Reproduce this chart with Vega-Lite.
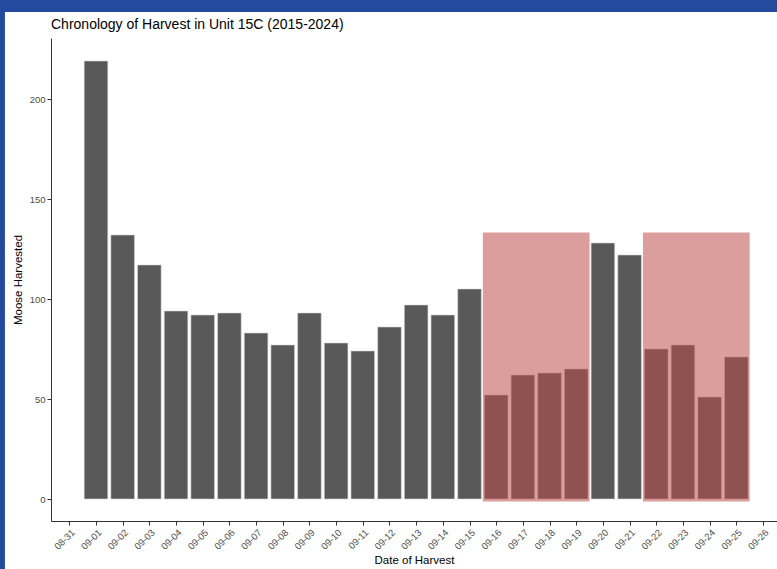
{
  "$schema": "https://vega.github.io/schema/vega-lite/v6.json",
  "width": 726,
  "height": 483,
  "autosize": {"type": "none"},
  "padding": {"left": 51, "top": 38, "right": 0, "bottom": 48},
  "background": "#234a9c",
  "title": {
    "text": "Chronology of Harvest in Unit 15C (2015-2024)",
    "anchor": "start",
    "frame": "group",
    "font": "Liberation Sans",
    "fontSize": 14,
    "fontWeight": "normal",
    "color": "#000000",
    "baseline": "alphabetic",
    "offset": -31,
    "zindex": 1
  },
  "config": {
    "view": {"stroke": null},
    "axis": {
      "grid": false,
      "domainColor": "#333333",
      "domainWidth": 1,
      "tickColor": "#333333",
      "tickSize": 4,
      "labelColor": "#4d4d4d",
      "labelFont": "Liberation Sans",
      "labelFontSize": 9.5,
      "titleFont": "Liberation Sans",
      "titleFontSize": 11.5,
      "titleFontWeight": "normal",
      "titleColor": "#000000"
    }
  },
  "datasets": {
    "harvest": [
      {"date": "2024-09-01", "moose": 219},
      {"date": "2024-09-02", "moose": 132},
      {"date": "2024-09-03", "moose": 117},
      {"date": "2024-09-04", "moose": 94},
      {"date": "2024-09-05", "moose": 92},
      {"date": "2024-09-06", "moose": 93},
      {"date": "2024-09-07", "moose": 83},
      {"date": "2024-09-08", "moose": 77},
      {"date": "2024-09-09", "moose": 93},
      {"date": "2024-09-10", "moose": 78},
      {"date": "2024-09-11", "moose": 74},
      {"date": "2024-09-12", "moose": 86},
      {"date": "2024-09-13", "moose": 97},
      {"date": "2024-09-14", "moose": 92},
      {"date": "2024-09-15", "moose": 105},
      {"date": "2024-09-16", "moose": 52},
      {"date": "2024-09-17", "moose": 62},
      {"date": "2024-09-18", "moose": 63},
      {"date": "2024-09-19", "moose": 65},
      {"date": "2024-09-20", "moose": 128},
      {"date": "2024-09-21", "moose": 122},
      {"date": "2024-09-22", "moose": 75},
      {"date": "2024-09-23", "moose": 77},
      {"date": "2024-09-24", "moose": 51},
      {"date": "2024-09-25", "moose": 71}
    ],
    "periods": [
      {"start": "2024-09-15T12:00:00Z", "end": "2024-09-19T12:00:00Z", "low": -1.3, "high": 133.3},
      {"start": "2024-09-21T12:00:00Z", "end": "2024-09-25T12:00:00Z", "low": -1.3, "high": 133.3}
    ]
  },
  "layer": [
    {
      "data": {"values": [{}]},
      "mark": {"type": "rect", "fill": "#ffffff", "clip": false},
      "encoding": {
        "x": {"datum": {"year": 2024, "month": 8, "date": 28, "hours": 14, "minutes": 6, "utc": true}, "type": "temporal", "title": "Date of Harvest"},
        "x2": {"datum": {"year": 2024, "month": 10, "date": 30, "utc": true}},
        "y": {"datum": 243.5, "type": "quantitative", "title": "Moose Harvested"},
        "y2": {"datum": -200}
      }
    },
    {
      "data": {"name": "harvest"},
      "mark": {"type": "bar", "fill": "#595959", "stroke": "#d4d4d4", "strokeWidth": 0.6, "width": 23.6},
      "encoding": {
        "x": {
          "field": "date",
          "type": "temporal",
          "title": "Date of Harvest",
          "scale": {
            "type": "utc",
            "nice": false,
            "padding": 0,
            "domain": [
              {"year": 2024, "month": 8, "date": 30, "hours": 7, "minutes": 32, "utc": true},
              {"year": 2024, "month": 9, "date": 26, "hours": 12, "minutes": 36, "utc": true}
            ]
          },
          "axis": {
            "zindex": 2,
            "format": "%m-%d",
            "tickCount": {"interval": "day", "step": 1},
            "labelAngle": -45,
            "labelAlign": "right",
            "labelBaseline": "top",
            "labelPadding": 2,
            "labelOverlap": false,
            "labelFlush": false,
            "titlePadding": 4
          }
        },
        "y": {
          "field": "moose",
          "type": "quantitative",
          "title": "Moose Harvested",
          "scale": {"domain": [-11, 230.5], "nice": false, "zero": false, "padding": 0},
          "axis": {"zindex": 2, "values": [0, 50, 100, 150, 200], "labelPadding": 2, "titlePadding": 6}
        }
      }
    },
    {
      "data": {"name": "periods"},
      "mark": {"type": "rect", "fill": "#be4a4a", "opacity": 0.54},
      "encoding": {
        "x": {"field": "start", "type": "temporal", "title": "Date of Harvest"},
        "x2": {"field": "end"},
        "y": {"field": "low", "type": "quantitative", "title": "Moose Harvested"},
        "y2": {"field": "high"}
      }
    }
  ]
}
